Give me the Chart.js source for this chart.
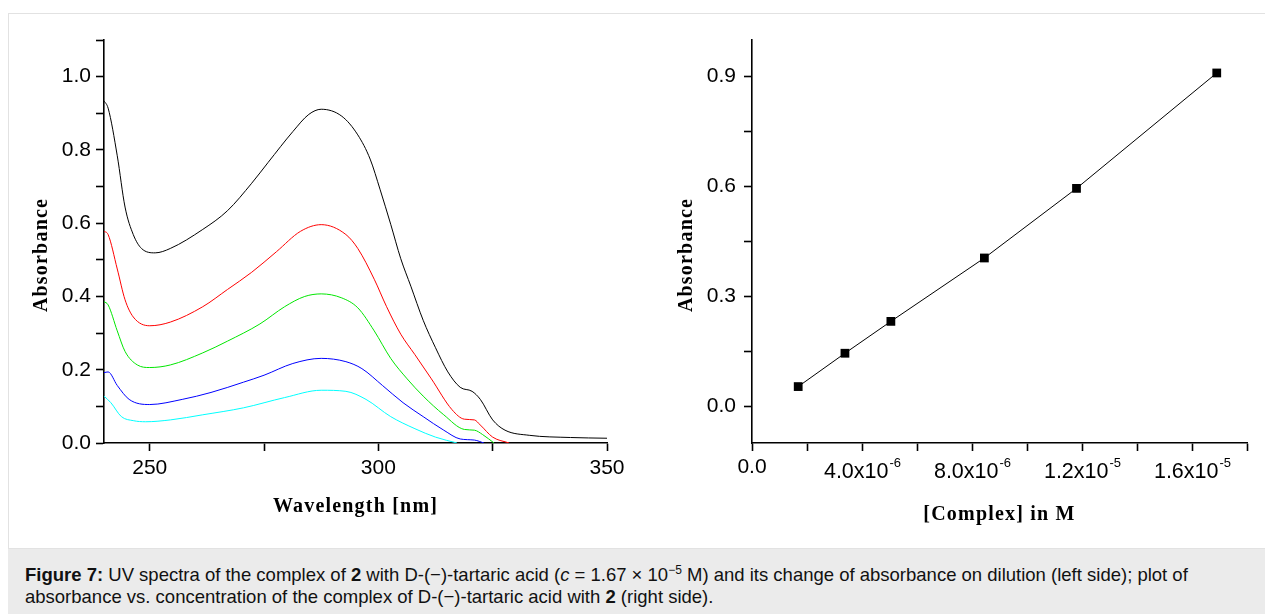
<!DOCTYPE html>
<html>
<head>
<meta charset="utf-8">
<script src="https://cdn.jsdelivr.net/npm/chart.js@4.4.1/dist/chart.umd.min.js"></script>
<style>
  html, body { margin: 0; padding: 0; background: #fff; width: 1265px; height: 614px; overflow: hidden; }
  #frame { position: absolute; left: 8px; top: 13px; width: 1300px; height: 536px; border: 1px solid #e2e2e2; box-sizing: border-box; }
  #caption { position: absolute; left: 8px; top: 549px; width: 1300px; height: 80px; background: #ebebeb;
    font-family: "Liberation Sans", Arial, sans-serif; font-size: 18.5px; line-height: 22px; color: #111;
    padding: 15px 0 0 17px; box-sizing: border-box; white-space: nowrap; }
  #caption sup { font-size: 12px; line-height: 0; vertical-align: 7px; }
  #left { position: absolute; left: 0; top: 0; }
  #right { position: absolute; left: 640px; top: 0; }
</style>
</head>
<body>
<div id="frame"></div>
<div id="caption"><b>Figure 7:</b> UV spectra of the complex of <b>2</b> with D-(−)-tartaric acid (<i>c</i> = 1.67 × 10<sup>−5</sup> M) and its change of absorbance on dilution (left side); plot of<br>absorbance vs. concentration of the complex of D-(−)-tartaric acid with <b>2</b> (right side).</div>
<canvas id="left" width="640" height="545"></canvas>
<canvas id="right" width="625" height="545"></canvas>
<script>
// ---- Left panel: UV spectra (wavelength nm, absorbance) ----
const wlBlack  = [240, 240.9, 242.9, 244.6, 246.4, 248.2, 251.2, 254.5, 261.6, 267, 272.3, 275.9, 281.3, 284.8, 287.5, 292, 295.5, 298.2, 300.4, 302.7, 304.9, 307.1, 309.8, 312.5, 315.2, 317.9, 320.5, 322.3, 325, 327.7, 333, 342, 350];
const absBlack = [0.934, 0.914, 0.784, 0.644, 0.569, 0.531, 0.519, 0.531, 0.583, 0.634, 0.709, 0.766, 0.850, 0.897, 0.911, 0.892, 0.841, 0.775, 0.691, 0.597, 0.503, 0.428, 0.335, 0.260, 0.194, 0.152, 0.141, 0.119, 0.063, 0.035, 0.021, 0.015, 0.013];
const wlRed    = [240, 240.9, 242.9, 244.6, 246.4, 250, 254.5, 261.6, 267, 272.3, 277.7, 283, 287.5, 292.9, 295.5, 299.1, 301.8, 304.9, 308, 311.6, 316.1, 318.8, 321, 322.3, 325, 328.6];
const absRed   = [0.578, 0.569, 0.475, 0.391, 0.344, 0.320, 0.330, 0.372, 0.419, 0.466, 0.522, 0.578, 0.596, 0.569, 0.531, 0.447, 0.372, 0.297, 0.241, 0.175, 0.091, 0.065, 0.063, 0.049, 0.016, 0];
const wlGreen  = [240, 240.9, 242.9, 244.6, 247.3, 250, 254.5, 261.6, 267, 274.1, 279.5, 283.9, 287.5, 292, 295.5, 299.1, 302.7, 306.3, 309.8, 314.3, 318.8, 321, 322.8, 325.3];
const absGreen = [0.386, 0.377, 0.306, 0.250, 0.213, 0.206, 0.213, 0.246, 0.278, 0.325, 0.372, 0.400, 0.407, 0.396, 0.369, 0.306, 0.231, 0.175, 0.128, 0.077, 0.037, 0.035, 0.023, 0];
const wlBlue   = [240, 240.9, 242.9, 245.5, 250, 257.1, 263.4, 270.5, 275, 281.3, 287.5, 292.9, 296.4, 300.9, 305.4, 309.8, 314.3, 317.9, 321, 323.1];
const absBlue  = [0.192, 0.194, 0.157, 0.119, 0.105, 0.119, 0.138, 0.166, 0.185, 0.217, 0.231, 0.222, 0.203, 0.157, 0.110, 0.072, 0.035, 0.011, 0.008, 0];
const wlCyan   = [240, 241.5, 243.8, 246.4, 249.1, 254.5, 261.6, 270.5, 279.5, 287.5, 292.9, 297.3, 302.7, 308, 312.5, 317.2];
const absCyan  = [0.128, 0.110, 0.072, 0.061, 0.058, 0.063, 0.077, 0.096, 0.124, 0.144, 0.141, 0.119, 0.072, 0.039, 0.016, 0];

// ---- Right panel: absorbance vs concentration ----
const concentration = [1.68e-6, 3.38e-6, 5.05e-6, 8.45e-6, 1.18e-5, 1.69e-5];
const absorbance    = [0.054, 0.145, 0.232, 0.405, 0.595, 0.910];

// ---- Axis labels ----
const leftXTitle = 'Wavelength [nm]';
const leftYTitle = 'Absorbance';
const rightXTitle = '[Complex] in M';
const rightYTitle = 'Absorbance';
const leftXLabels = [250, 300, 350];

const TICK_FONT = { family: '"Liberation Sans", Arial, sans-serif', size: 21 };
const TITLE_FONT = 'bold 20px "Liberation Serif", "Times New Roman", serif';

function pts(xs, ys) { return xs.map((x, i) => ({ x: x, y: ys[i] })); }
function spec(xs, ys, color) {
  return { data: pts(xs, ys), borderColor: color, borderWidth: 1, pointRadius: 0,
           cubicInterpolationMode: 'monotone', fill: false };
}

function axisCommon() {
  return {
    border: { display: true, color: '#000', width: 1.6 },
    grid: { drawOnChartArea: false, drawTicks: true, tickLength: 8, tickWidth: 1.6, tickColor: '#000' }
  };
}

// plugin drawing axis titles relative to the chart area
function titlesPlugin(xTitle, yTitle, xTitleY, yTitleX, yTitleCY) {
  return {
    id: 'titles',
    afterDraw(chart) {
      const ctx = chart.ctx, a = chart.chartArea;
      ctx.save();
      ctx.fillStyle = '#000';
      ctx.font = TITLE_FONT;
      ctx.letterSpacing = '1.2px';
      ctx.textAlign = 'center';
      ctx.textBaseline = 'alphabetic';
      ctx.fillText(xTitle, (a.left + a.right) / 2, xTitleY);
      ctx.translate(yTitleX, yTitleCY);
      ctx.rotate(-Math.PI / 2);
      ctx.fillText(yTitle, 0, 0);
      ctx.restore();
    }
  };
}

// Left chart
new Chart(document.getElementById('left'), {
  type: 'line',
  data: { datasets: [
    spec(wlBlack, absBlack, '#000000'),
    spec(wlRed, absRed, '#ff0000'),
    spec(wlGreen, absGreen, '#00e600'),
    spec(wlBlue, absBlue, '#0000ff'),
    spec(wlCyan, absCyan, '#00ffff')
  ]},
  options: {
    responsive: false, animation: false, devicePixelRatio: 1,
    layout: { padding: { left: 0, top: 40, right: 33, bottom: 0 } },
    plugins: { legend: { display: false }, tooltip: { enabled: false } },
    scales: {
      x: Object.assign(axisCommon(), {
        type: 'linear', min: 240, max: 350,
        ticks: { stepSize: 25, includeBounds: false, color: '#000', font: TICK_FONT, padding: 5, maxRotation: 0,
                 callback: v => leftXLabels.includes(Math.round(v)) ? String(Math.round(v)) : '' },
        afterFit: s => { s.height = 102; }
      }),
      y: Object.assign(axisCommon(), {
        type: 'linear', min: 0, max: 1.1,
        ticks: { stepSize: 0.1, includeBounds: false, color: '#000', font: TICK_FONT, padding: 5,
                 callback: v => (Math.round(v * 10) % 2 === 0) ? v.toFixed(1) : '' },
        afterFit: s => { s.width = 104; }
      })
    }
  },
  plugins: [titlesPlugin(leftXTitle, leftYTitle, 512, 47, 255)]
});

// plugin drawing x tick labels with superscript exponents (right chart)
const sciTickPlugin = {
  id: 'sciTicks',
  afterDraw(chart) {
    const ctx = chart.ctx, sc = chart.scales.x;
    ctx.save();
    ctx.fillStyle = '#000';
    sc.ticks.forEach(t => {
      const v = t.value;
      const k = Math.round(v / 4e-6);
      if (Math.abs(v / 4e-6 - k) > 1e-6 || k * 4e-6 > 1.7e-5) return;
      const px = sc.getPixelForValue(v);
      if (k === 0) {
        ctx.font = '21px "Liberation Sans", Arial, sans-serif';
        ctx.textAlign = 'center'; ctx.textBaseline = 'alphabetic';
        ctx.fillText('0.0', px, sc.top + 30);
        return;
      }
      const exp = Math.floor(Math.log10(v) + 1e-9);
      const mant = (v / Math.pow(10, exp)).toFixed(1);
      const main = mant + 'x10';
      const sup = String(exp);
      ctx.font = '21.5px "Liberation Sans", Arial, sans-serif';
      const w1 = ctx.measureText(main).width;
      ctx.font = '13px "Liberation Sans", Arial, sans-serif';
      const w2 = ctx.measureText(sup).width;
      const x0 = px - (w1 + w2) / 2;
      ctx.textAlign = 'left'; ctx.textBaseline = 'alphabetic';
      ctx.font = '21.5px "Liberation Sans", Arial, sans-serif';
      ctx.fillText(main, x0, sc.top + 35);
      ctx.font = '13px "Liberation Sans", Arial, sans-serif';
      ctx.fillText(sup, x0 + w1 + 1, sc.top + 24);
    });
    ctx.restore();
  }
};

// Right chart
new Chart(document.getElementById('right'), {
  type: 'line',
  data: { datasets: [{
    data: pts(concentration, absorbance),
    borderColor: '#000', borderWidth: 1, tension: 0,
    pointStyle: 'rect', pointRadius: 6.2, pointBackgroundColor: '#000', pointBorderColor: '#000', pointBorderWidth: 0
  }]},
  options: {
    responsive: false, animation: false, devicePixelRatio: 1,
    layout: { padding: { left: 0, top: 40, right: 18, bottom: 0 } },
    plugins: { legend: { display: false }, tooltip: { enabled: false } },
    scales: {
      x: Object.assign(axisCommon(), {
        type: 'linear', min: 0, max: 1.8e-5,
        ticks: { stepSize: 2e-6, display: false },
        afterFit: s => { s.height = 102; }
      }),
      y: Object.assign(axisCommon(), {
        type: 'linear', min: -0.1, max: 1.0,
        ticks: { stepSize: 0.15, includeBounds: false, color: '#000', font: TICK_FONT, padding: 8,
                 callback: v => { const r = v / 0.3; return Math.abs(r - Math.round(r)) < 1e-6 ? v.toFixed(1) : ''; } },
        afterFit: s => { s.width = 112; }
      })
    }
  },
  plugins: [sciTickPlugin, titlesPlugin(rightXTitle, rightYTitle, 520, 52, 255)]
});
</script>
</body>
</html>
